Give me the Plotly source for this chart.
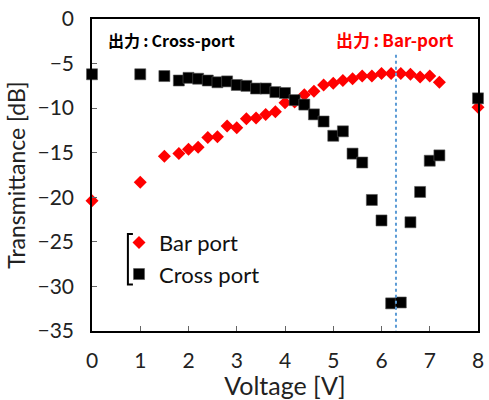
import plotly.graph_objects as go

bar_v = [0, 1.0, 1.5, 1.8, 2.0, 2.2, 2.4, 2.6, 2.8, 3.0, 3.2, 3.4, 3.6, 3.8, 4.0, 4.2, 4.4, 4.6, 4.8,
         5.0, 5.2, 5.4, 5.6, 5.8, 6.0, 6.2, 6.4, 6.6, 6.8, 7.0, 7.2, 8.0]
bar_t = [-20.4, -18.3, -15.4, -15.1, -14.6, -14.4, -13.3, -13.2, -12.0, -12.2, -11.2, -11.1, -10.7, -10.4,
         -9.4, -9.3, -8.5, -8.1, -7.4, -7.2, -6.9, -6.7, -6.4, -6.4, -6.1, -6.1, -6.1, -6.2, -6.5, -6.4,
         -7.1, -9.9]

cross_v = [0, 1.0, 1.5, 1.8, 2.0, 2.2, 2.4, 2.6, 2.8, 3.0, 3.2, 3.4, 3.6, 3.8, 4.0, 4.2, 4.4, 4.6, 4.8,
           5.0, 5.2, 5.4, 5.6, 5.8, 6.0, 6.2, 6.4, 6.6, 6.8, 7.0, 7.2, 8.0]
cross_t = [-6.2, -6.2, -6.4, -6.9, -6.6, -6.7, -6.9, -7.1, -7.0, -7.4, -7.5, -7.8, -7.8, -8.2, -8.3,
           -9.1, -9.6, -10.7, -11.5, -13.1, -12.6, -15.1, -16.1, -20.3, -22.6, -31.9, -31.8, -22.8,
           -19.4, -15.9, -15.3, -8.9]

marker_line_v = 6.3
x_ticks = [0, 1, 2, 3, 4, 5, 6, 7, 8]
y_ticks = [0, -5, -10, -15, -20, -25, -30, -35]

FONT = "Lato, 'Noto Sans', sans-serif"
CJK = "'Noto Sans CJK JP', 'Noto Sans', sans-serif"

fig = go.Figure()
fig.add_trace(go.Scatter(x=bar_v, y=bar_t, mode="markers", name="Bar port",
                         marker=dict(symbol="diamond", size=10, color="#FF0000"),
                         cliponaxis=False))
fig.add_trace(go.Scatter(x=cross_v, y=cross_t, mode="markers", name="Cross port",
                         marker=dict(symbol="square", size=11, color="#000000",
                                     line=dict(color="#555555", width=0.6)),
                         cliponaxis=False))

fig.add_shape(type="line", x0=marker_line_v, x1=marker_line_v, y0=-4, y1=-35,
              xref="x", yref="y", line=dict(color="#5B9BD5", width=2, dash="dot"))

# legend bracket
fig.add_shape(type="path", xref="paper", yref="paper",
              path="M 0.106 0.311 L 0.093 0.311 L 0.093 0.149 L 0.106 0.149",
              line=dict(color="black", width=2))

fig.add_annotation(x=0.036, y=0.933, xref="paper", yref="paper", xanchor="left", yanchor="middle",
                   text="<b>出力\u2009:\u2009Cross-port</b>", showarrow=False,
                   font=dict(family=CJK, size=16, color="black"))
fig.add_annotation(x=0.626, y=0.933, xref="paper", yref="paper", xanchor="left", yanchor="middle",
                   text="<b>出力\u2009:\u2009Bar-port</b>", showarrow=False,
                   font=dict(family=CJK, size=17, color="#FF0000"))

axis_common = dict(showline=True, linecolor="black", linewidth=1.5, mirror=True,
                   ticks="inside", ticklen=5, tickcolor="#666666", showgrid=False, zeroline=False,
                   tickfont=dict(family=FONT, size=21, color="#222222"))

fig.update_xaxes(range=[0, 8], tickvals=x_ticks,
                 title=dict(text="Voltage [V]", font=dict(family=FONT, size=25, color="#222222"), standoff=4),
                 ticklabelstandoff=10, **axis_common)
fig.update_yaxes(range=[-35, 0], tickvals=y_ticks,
                 title=dict(text="Transmittance [dB]", font=dict(family=FONT, size=23, color="#222222"), standoff=5),
                 ticklabelstandoff=12, **axis_common)

fig.update_layout(
    width=489, height=400,
    margin=dict(l=92, r=5, t=16, b=69),
    paper_bgcolor="white", plot_bgcolor="white",
    showlegend=True,
    legend=dict(x=0.07, y=0.232, xanchor="left", yanchor="middle", bgcolor="rgba(0,0,0,0)",
                font=dict(family=FONT, size=22, color="#111111"), tracegroupgap=0),
)

fig.write_html("out.html")
